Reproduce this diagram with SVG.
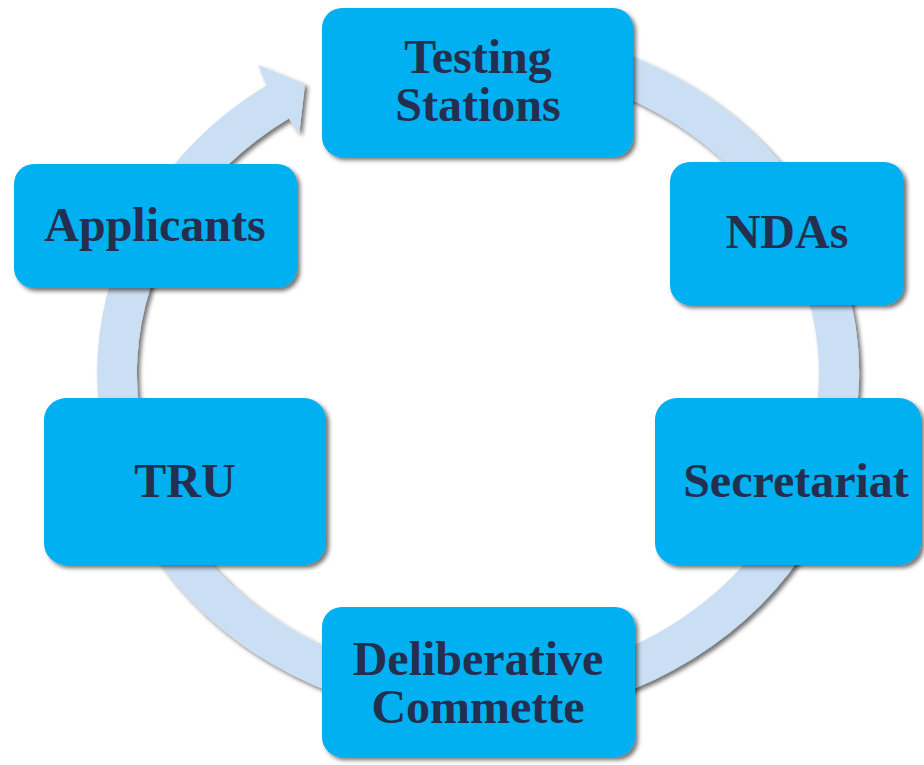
<svg xmlns="http://www.w3.org/2000/svg" width="924" height="765" viewBox="0 0 924 765">
  <defs>
    <filter id="shadow" x="-10%" y="-10%" width="125%" height="125%">
      <feDropShadow dx="3" dy="3" stdDeviation="2.2" flood-color="#000" flood-opacity="0.55"/>
    </filter>
  </defs>
  <style>
    .box { fill: #02B0F0; filter: url(#shadow); }
    .lbl { font-family: "Liberation Serif", "Times New Roman", serif; font-weight: bold; font-size: 48px; fill: #242E4E; text-anchor: middle; }
    .ring { fill: #CADFF3; filter: url(#shadow); }
  </style>
  <rect width="924" height="765" fill="#FFFFFF"/>
  <g id="connectors">
    <path class="ring" d="M 511.2,28.3 A 381 346 0 1 1 266.6,85.2 L 258.3,65 L 305,84 L 299.3,133.3 L 288.8,118.4 A 341 306 0 1 0 507.7,68.2 Z"/>
  </g>
  <g id="node-testing-stations">
    <rect class="box" x="322" y="8" width="311" height="149" rx="20" ry="20"/>
    <text class="lbl" x="478" y="73">Testing</text>
    <text class="lbl" x="478" y="121">Stations</text>
  </g>
  <g id="node-ndas">
    <rect class="box" x="670" y="162" width="234" height="143" rx="20" ry="20"/>
    <text class="lbl" x="787" y="248">NDAs</text>
  </g>
  <g id="node-secretariat">
    <rect class="box" x="655" y="398" width="266" height="167" rx="22" ry="22"/>
    <text class="lbl" x="796" y="497">Secretariat</text>
  </g>
  <g id="node-deliberative-commette">
    <rect class="box" x="322" y="607" width="313" height="150" rx="20" ry="20"/>
    <text class="lbl" x="478" y="675">Deliberative</text>
    <text class="lbl" x="478" y="723">Commette</text>
  </g>
  <g id="node-tru">
    <rect class="box" x="44" y="398" width="282" height="167" rx="22" ry="22"/>
    <text class="lbl" x="185" y="497">TRU</text>
  </g>
  <g id="node-applicants">
    <rect class="box" x="14" y="164" width="283" height="124" rx="20" ry="20"/>
    <text class="lbl" x="155" y="241">Applicants</text>
  </g>
</svg>
